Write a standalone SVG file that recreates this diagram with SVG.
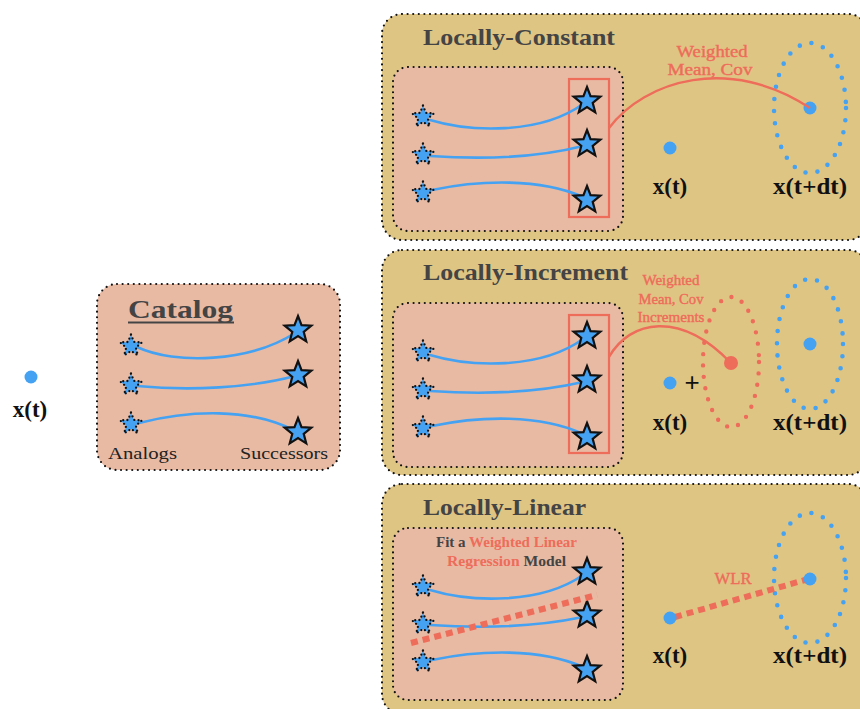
<svg xmlns="http://www.w3.org/2000/svg" xmlns:xlink="http://www.w3.org/1999/xlink" width="860" height="709" viewBox="0 0 860 709">
  <defs>
    <style>
      .panel { fill: #dfc584; stroke: #111; stroke-width: 2.2; stroke-dasharray: 0 5.6; stroke-linecap: round; }
      .box { fill: #e8baa4; stroke: #111; stroke-width: 2.2; stroke-dasharray: 0 5.6; stroke-linecap: round; }
      .title { font-family: "Liberation Serif", "DejaVu Serif", serif; font-weight: bold; fill: #444; }
      .lab { font-family: "Liberation Serif", "DejaVu Serif", serif; fill: #222; }
      .var { font-family: "Liberation Serif", "DejaVu Serif", serif; font-weight: bold; fill: #111; text-anchor: middle; }
      .red { font-family: "Liberation Serif", "DejaVu Serif", serif; fill: #ee6c5a; stroke: #ee6c5a; stroke-width: 0.4; text-anchor: middle; }
      .traj { fill: none; stroke: #45a2f2; stroke-width: 2.6; stroke-linecap: round; }
      .link { fill: none; stroke: #ee6c5a; stroke-width: 2.4; }
      .wlr { fill: none; stroke: #ee6c5a; stroke-width: 6; stroke-dasharray: 7 5; }
      .cloud { fill: none; stroke: #45a2f2; stroke-width: 4.6; stroke-linecap: round; stroke-dasharray: 0 12.2; }
      .cloud-red { fill: none; stroke: #ee6c5a; stroke-width: 4.4; stroke-linecap: round; stroke-dasharray: 0 11.4; }
      .pt { fill: #45a2f2; }
      .sel { fill: none; stroke: #ee6c5a; stroke-width: 2.2; }
    </style>
    <!-- analog state: blue star with a dotted outline -->
    <path id="analog" d="M0,-11.5 L2.95,-4.05 L10.94,-3.55 L4.78,1.55 L6.76,9.3 L0,5 L-6.76,9.3 L-4.78,1.55 L-10.94,-3.55 L-2.95,-4.05 Z" fill="#45a2f2" stroke="#111" stroke-width="2.3" stroke-linecap="round" stroke-dasharray="0 4.2"/>
    <!-- successor state: blue star with a solid outline -->
    <path id="succ" d="M0,-14 L3.53,-4.85 L13.31,-4.33 L5.71,1.85 L8.23,11.33 L0,6 L-8.23,11.33 L-5.71,1.85 L-13.31,-4.33 L-3.53,-4.85 Z" fill="#45a2f2" stroke="#111" stroke-width="2.2" stroke-linejoin="miter"/>
  </defs>

  <rect width="860" height="709" fill="#ffffff"/>

  <!-- current state -->
  <g id="state">
    <circle class="pt" cx="31" cy="377" r="6.5"/>
    <text class="var" x="30" y="417" font-size="23">x(t)</text>
  </g>

  <!-- catalog of analogs and successors -->
  <g id="catalog">
    <rect class="box" x="97" y="284" width="243" height="186" rx="20"/>
    <text class="title" x="128" y="318" font-size="26" textLength="105" lengthAdjust="spacingAndGlyphs">Catalog</text>
    <line x1="128" y1="322.5" x2="234" y2="322.5" stroke="#444" stroke-width="2"/>
    <text class="lab" x="108" y="459" font-size="17" textLength="69" lengthAdjust="spacingAndGlyphs">Analogs</text>
    <text class="lab" x="240" y="459" font-size="17" textLength="88" lengthAdjust="spacingAndGlyphs">Successors</text>
  </g>

  <!-- locally-constant panel -->
  <g id="panel-constant">
    <rect class="panel" x="382" y="14" width="486" height="226" rx="20"/>
    <text class="title" x="423" y="45" font-size="23" textLength="192" lengthAdjust="spacingAndGlyphs">Locally-Constant</text>
    <rect class="box" x="393" y="67" width="230" height="164" rx="15"/>
    <rect class="sel" x="569" y="79" width="40" height="138"/>
    <text class="red" x="712" y="57" font-size="17" textLength="71" lengthAdjust="spacingAndGlyphs">Weighted</text>
    <text class="red" x="710" y="75" font-size="17" textLength="85" lengthAdjust="spacingAndGlyphs">Mean, Cov</text>
    <ellipse class="cloud" cx="810" cy="108" rx="36" ry="65"/>
    <circle class="pt" cx="670" cy="148" r="6.5"/>
    <circle class="pt" cx="810" cy="108" r="6.5"/>
    <text class="var" x="670" y="194" font-size="23">x(t)</text>
    <text class="var" x="810" y="194" font-size="23" textLength="74" lengthAdjust="spacingAndGlyphs">x(t+dt)</text>
  </g>

  <!-- locally-increment panel -->
  <g id="panel-increment">
    <rect class="panel" x="382" y="250" width="486" height="225" rx="20"/>
    <text class="title" x="423" y="280" font-size="23" textLength="205" lengthAdjust="spacingAndGlyphs">Locally-Increment</text>
    <rect class="box" x="393" y="303" width="230" height="164" rx="15"/>
    <rect class="sel" x="569" y="315" width="40" height="138"/>
    <text class="red" x="671" y="285" font-size="14" textLength="57" lengthAdjust="spacingAndGlyphs">Weighted</text>
    <text class="red" x="671" y="304" font-size="14" textLength="65" lengthAdjust="spacingAndGlyphs">Mean, Cov</text>
    <text class="red" x="671" y="322" font-size="14" textLength="67" lengthAdjust="spacingAndGlyphs">Increments</text>
    <ellipse class="cloud-red" cx="731" cy="362" rx="28" ry="65"/>
    <ellipse class="cloud" cx="810" cy="344" rx="33" ry="65"/>
    <circle cx="731" cy="363" r="7" fill="#ee6c5a"/>
    <circle class="pt" cx="810" cy="344" r="6.5"/>
    <circle class="pt" cx="670" cy="383" r="6.5"/>
    <text x="692" y="391" font-size="26" font-family="Liberation Sans, sans-serif" fill="#111" text-anchor="middle">+</text>
    <text class="var" x="670" y="430" font-size="23">x(t)</text>
    <text class="var" x="810" y="430" font-size="23" textLength="74" lengthAdjust="spacingAndGlyphs">x(t+dt)</text>
  </g>

  <!-- locally-linear panel -->
  <g id="panel-linear">
    <rect class="panel" x="382" y="484" width="486" height="230" rx="20"/>
    <text class="title" x="423" y="515" font-size="23" textLength="163" lengthAdjust="spacingAndGlyphs">Locally-Linear</text>
    <rect class="box" x="393" y="528" width="230" height="172" rx="15"/>
    <text x="436" y="547" font-size="14" font-weight="bold" font-family="Liberation Serif, DejaVu Serif, serif" fill="#444" textLength="141" lengthAdjust="spacingAndGlyphs">Fit a <tspan fill="#ee6c5a">Weighted Linear</tspan></text>
    <text x="447" y="566" font-size="14" font-weight="bold" font-family="Liberation Serif, DejaVu Serif, serif" fill="#444" textLength="119" lengthAdjust="spacingAndGlyphs"><tspan fill="#ee6c5a">Regression</tspan> Model</text>
    <text class="red" x="733" y="584" font-size="17" textLength="37" lengthAdjust="spacingAndGlyphs">WLR</text>
    <ellipse class="cloud" cx="810" cy="578" rx="36" ry="65"/>
  </g>

  <!-- trajectories and fitting links -->
  <g id="connectors">
    <path class="traj" d="M137,347 C175,365 250,362 295,333"/>
    <path class="traj" d="M137,386 C190,391 250,388 295,376"/>
    <path class="traj" d="M139,423 C190,410 250,408 293,430"/>

    <path class="traj" d="M430,120 C470,132 540,135 583,104"/>
    <path class="traj" d="M430,156 C490,160 540,157 583,146"/>
    <path class="traj" d="M432,190 C480,180 540,178 583,197"/>

    <path class="traj" d="M430,355 C470,367 540,370 583,339"/>
    <path class="traj" d="M430,391 C490,395 540,392 583,382"/>
    <path class="traj" d="M432,426 C480,416 540,414 583,434"/>

    <path class="traj" d="M430,590 C470,602 540,605 583,575"/>
    <path class="traj" d="M430,625 C490,629 540,626 583,617"/>
    <path class="traj" d="M432,660 C480,650 540,648 583,667"/>

    <path class="link" d="M609,128 C645,80 730,55 810,108"/>
    <path class="link" d="M609,357 C630,320 680,310 731,363"/>

    <line class="wlr" x1="675" y1="617" x2="805" y2="580"/>
  </g>

  <!-- analog and successor markers -->
  <g id="catalog-stars">
    <use href="#analog" x="131" y="346"/>
    <use href="#analog" x="131" y="385"/>
    <use href="#analog" x="131" y="424"/>
    <use href="#succ" x="298" y="330"/>
    <use href="#succ" x="298" y="375"/>
    <use href="#succ" x="298" y="432"/>
  </g>
  <g id="constant-stars">
    <use href="#analog" x="423" y="117"/>
    <use href="#analog" x="423" y="155"/>
    <use href="#analog" x="423" y="193"/>
    <use href="#succ" x="587" y="101"/>
    <use href="#succ" x="587" y="144"/>
    <use href="#succ" x="587" y="200"/>
  </g>
  <g id="increment-stars">
    <use href="#analog" x="423" y="352"/>
    <use href="#analog" x="423" y="390"/>
    <use href="#analog" x="423" y="428"/>
    <use href="#succ" x="587" y="336"/>
    <use href="#succ" x="587" y="380"/>
    <use href="#succ" x="587" y="437"/>
  </g>
  <g id="linear-stars">
    <use href="#analog" x="423" y="587"/>
    <use href="#analog" x="423" y="624"/>
    <use href="#analog" x="423" y="662"/>
    <use href="#succ" x="587" y="572"/>
    <use href="#succ" x="587" y="615"/>
    <use href="#succ" x="587" y="670"/>
  </g>
  <!-- fit line drawn over the stars in the linear panel -->
  <g id="linear-fit">
    <line class="wlr" x1="411" y1="643" x2="597" y2="595"/>
    <circle class="pt" cx="670" cy="618" r="6.5"/>
    <circle class="pt" cx="810" cy="579" r="6.5"/>
    <text class="var" x="670" y="663" font-size="23">x(t)</text>
    <text class="var" x="810" y="663" font-size="23" textLength="74" lengthAdjust="spacingAndGlyphs">x(t+dt)</text>
  </g>
</svg>
